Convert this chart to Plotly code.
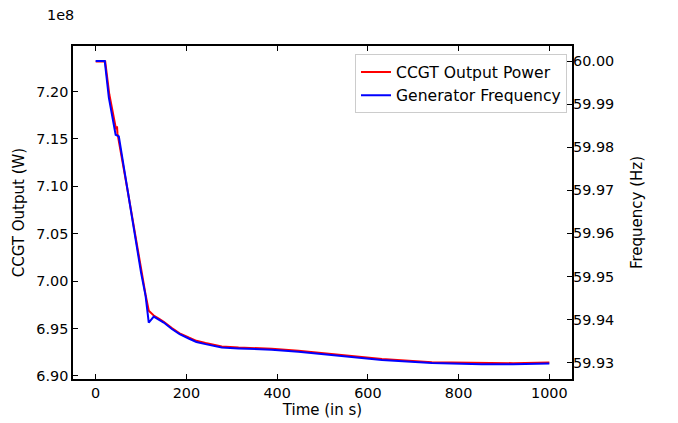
import plotly.graph_objects as go

# ---- data ----
power_t = [0, 21, 30, 45, 47, 48, 70, 100, 110, 117, 128, 140, 150, 168, 185, 205, 222, 242, 278, 315, 388, 447,
           484, 560, 631, 741, 851, 920, 1000]
power_w = [7.2317e8, 7.2317e8, 7.1972e8, 7.1601e8, 7.1633e8, 7.1559e8, 7.0967e8, 7.0100e8, 6.9857e8, 6.9688e8,
           6.9638e8, 6.9603e8, 6.9572e8, 6.9505e8, 6.9450e8, 6.9406e8, 6.9371e8, 6.9347e8, 6.9311e8, 6.9300e8,
           6.9287e8, 6.9265e8, 6.9247e8, 6.9212e8, 6.9178e8, 6.9146e8, 6.9135e8, 6.9135e8, 6.9142e8]

freq_t = [0, 20, 29, 44, 51, 70, 100, 110, 117, 128, 140, 150, 168, 185, 205, 222, 242, 278, 315, 388, 447,
          484, 560, 631, 741, 851, 920, 1000]
freq_hz = [60.0000, 60.0000, 59.9915, 59.9829, 59.9825, 59.9701, 59.9509, 59.9455, 59.9393, 59.9407,
           59.9400, 59.9393, 59.9378, 59.9366, 59.9356, 59.9348, 59.9343, 59.9335, 59.9333, 59.9330, 59.9325,
           59.9321, 59.9313, 59.9306, 59.9299, 59.9296, 59.9296, 59.9298]

x_ticks = [0, 200, 400, 600, 800, 1000]
power_ticks = [6.90e8, 6.95e8, 7.00e8, 7.05e8, 7.10e8, 7.15e8, 7.20e8]
power_tick_text = ["6.90", "6.95", "7.00", "7.05", "7.10", "7.15", "7.20"]
freq_ticks = [59.93, 59.94, 59.95, 59.96, 59.97, 59.98, 59.99, 60.00]

FONT = "DejaVu Sans"

fig = go.Figure()
fig.add_trace(go.Scatter(x=power_t, y=power_w, mode="lines", name="CCGT Output Power",
                         line=dict(color="#ff0000", width=2), yaxis="y"))
fig.add_trace(go.Scatter(x=freq_t, y=freq_hz, mode="lines", name="Generator Frequency",
                         line=dict(color="#0000ff", width=2), yaxis="y2"))

# the page body adds an 8px offset, so the figure is 8px smaller and margins compensate
fig.update_layout(
    width=670, height=415,
    margin=dict(l=65, r=106, t=38, b=44),
    paper_bgcolor="white", plot_bgcolor="white",
    font=dict(family=FONT, size=14.4, color="black"),
    showlegend=True,
    legend=dict(x=0.99, y=0.975, xanchor="right", yanchor="top",
                bgcolor="white", bordercolor="#cccccc", borderwidth=1,
                font=dict(family=FONT, size=15.6, color="black"),
                tracegroupgap=0, itemwidth=30),
    xaxis=dict(range=[-50, 1050], tickvals=x_ticks, ticks="inside", ticklen=5,
               tickcolor="black", showline=True, linecolor="black", linewidth=1.5,
               mirror="ticks", showgrid=False, zeroline=False, automargin=False,
               title=dict(text="Time (in s)", font=dict(size=15), standoff=4)),
    yaxis=dict(range=[6.8968e8, 7.2481e8], tickvals=power_ticks, ticktext=power_tick_text,
               ticks="inside", ticklen=5, tickcolor="black", showline=True,
               linecolor="black", linewidth=1.5, mirror=True, showgrid=False, zeroline=False,
               automargin=False,
               title=dict(text="CCGT Output (W)", font=dict(size=15), standoff=8)),
    yaxis2=dict(range=[59.9262, 60.0035], tickvals=freq_ticks, tickformat=".2f",
                overlaying="y", side="right", anchor="x",
                ticks="inside", ticklen=5, tickcolor="black", showline=False,
                showgrid=False, zeroline=False, automargin=False,
                title=dict(text="Frequency (Hz)", font=dict(size=15), standoff=18)),
    annotations=[dict(text="1e8", xref="paper", yref="paper", x=-0.056, y=1.093,
                      xanchor="left", yanchor="middle", showarrow=False,
                      font=dict(family=FONT, size=14.4, color="black"))],
)

fig.write_html("out.html")
